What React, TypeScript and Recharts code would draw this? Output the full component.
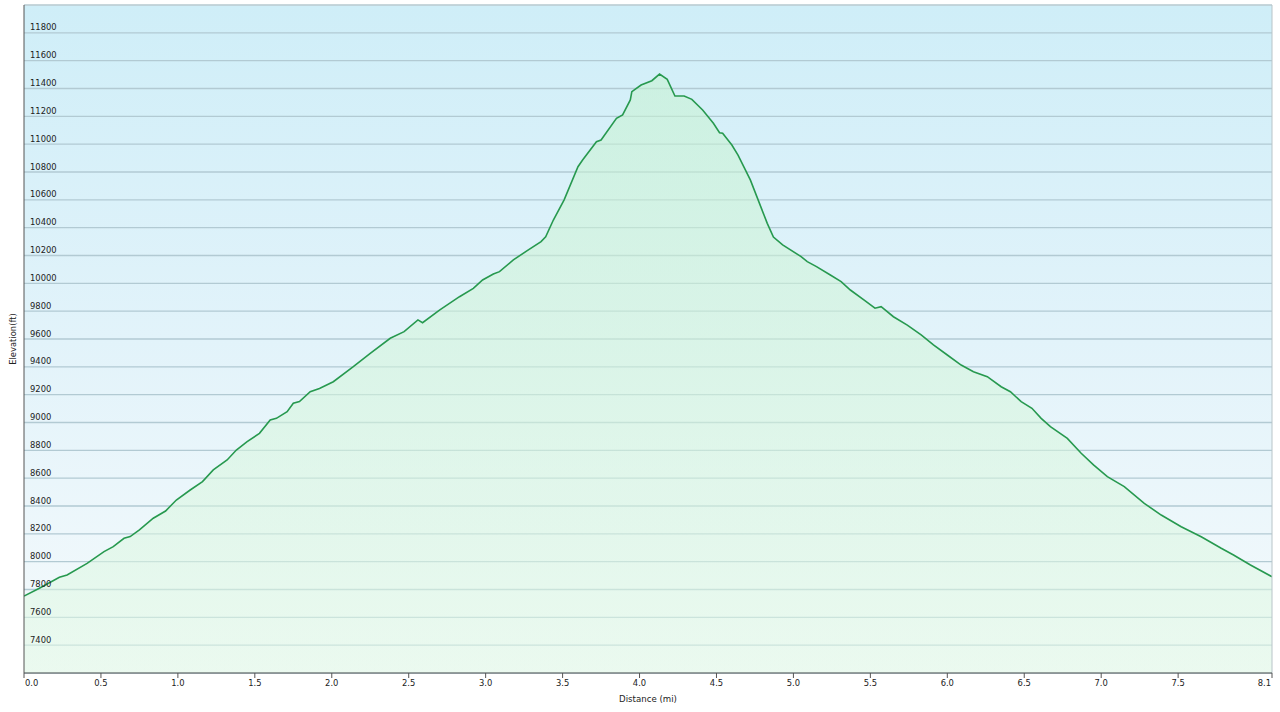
import React from 'react';
import { AreaChart, Area, XAxis, YAxis, CartesianGrid, ReferenceLine } from 'recharts';

const distanceMi = [
  0.0, 0.1, 0.23, 0.28, 0.41, 0.52, 0.58, 0.65, 0.69, 0.75, 0.84, 0.92, 0.99, 1.08, 1.16, 1.23,
  1.32, 1.38, 1.45, 1.53, 1.6, 1.64, 1.71, 1.75, 1.79, 1.86, 1.92, 2.01, 2.14, 2.25, 2.38, 2.47,
  2.56, 2.59, 2.7, 2.83, 2.92, 2.98, 3.05, 3.09, 3.18, 3.27, 3.36, 3.39, 3.44, 3.51, 3.6, 3.63,
  3.72, 3.75, 3.85, 3.89, 3.94, 3.95, 4.01, 4.08, 4.13, 4.18, 4.23, 4.29, 4.34, 4.41, 4.48, 4.52,
  4.54, 4.6, 4.64, 4.72, 4.83, 4.87, 4.93, 5.05, 5.09, 5.15, 5.24, 5.31, 5.37, 5.46, 5.53, 5.57,
  5.65, 5.74, 5.83, 5.91, 6.0, 6.09, 6.17, 6.26, 6.35, 6.41, 6.48, 6.55, 6.61, 6.67, 6.78, 6.87,
  6.95, 7.04, 7.15, 7.28, 7.39, 7.52, 7.65, 7.78, 7.86, 7.97, 8.11,
];

const elevationFt = [
  7753, 7809, 7888, 7904, 7988, 8072, 8108, 8168, 8180, 8228, 8312, 8364, 8443, 8515, 8575, 8659,
  8731, 8802, 8862, 8922, 9018, 9030, 9078, 9138, 9150, 9221, 9245, 9293, 9401, 9497, 9605, 9653,
  9737, 9717, 9808, 9904, 9964, 10024, 10067, 10084, 10168, 10235, 10300, 10335, 10455, 10600, 10838, 10886,
  11018, 11030, 11186, 11210, 11318, 11377, 11425, 11456, 11504, 11466, 11346, 11346, 11322, 11246, 11150, 11082,
  11078, 10994, 10922, 10743, 10431, 10333, 10276, 10192, 10156, 10120, 10060, 10012, 9952, 9880, 9821, 9832,
  9760, 9700, 9629, 9557, 9485, 9413, 9365, 9329, 9257, 9221, 9150, 9102, 9030, 8970, 8886, 8779,
  8695, 8611, 8539, 8419, 8335, 8251, 8179, 8096, 8048, 7976, 7892,
];

const yTicks = [7400, 7600, 7800, 8000, 8200, 8400, 8600, 8800, 9000, 9200, 9400, 9600, 9800, 10000, 10200, 10400, 10600, 10800, 11000, 11200, 11400, 11600, 11800];
const xTicks = [0, 0.5, 1, 1.5, 2, 2.5, 3, 3.5, 4, 4.5, 5, 5.5, 6, 6.5, 7, 7.5, 8.11];
const yDomain = [7200, 12000];
const xDomain = [0, 8.11];

const data = distanceMi.map((d, i) => ({ d, e: elevationFt[i] }));

const FONT = '"DejaVu Sans", Verdana, sans-serif';

const XTick = (props: any) => {
  const { x, y, payload, index } = props;
  const anchor = index === 0 ? 'start' : index === xTicks.length - 1 ? 'end' : 'middle';
  const dx = index === 0 ? 1 : index === xTicks.length - 1 ? -1 : 0;
  return (
    <text x={x + dx} y={y} dy="0.71em" textAnchor={anchor} fontSize={8.4} fontFamily={FONT} fill="#222">
      {Number(payload.value).toFixed(1)}
    </text>
  );
};

const EmptyTick = () => <g />;

const yLabel = (value: number) => (p: any) => {
  const vb = p.viewBox || {};
  return (
    <text x={vb.x + 6} y={vb.y - 2.5} textAnchor="start" fontSize={8.4} fontFamily={FONT} fill="#222">
      {value}
    </text>
  );
};

export default function App() {
  return (
    <div style={{ position: 'absolute', left: 0, top: 0, width: 1280, height: 712, background: '#fff' }}>
      <AreaChart width={1280} height={712} data={data} margin={{ top: 5, right: 8, bottom: 0, left: 0 }}>
        <defs>
          <linearGradient id="bgGrad" x1="0" y1="0" x2="0" y2="1">
            <stop offset="0%" stopColor="#cfeef8" />
            <stop offset="50%" stopColor="#e2f3fa" />
            <stop offset="100%" stopColor="#f5fafc" />
          </linearGradient>
          <linearGradient id="areaGrad" x1="0" y1="0" x2="0" y2="1">
            <stop offset="0%" stopColor="#c6f2cf" stopOpacity={0.55} />
            <stop offset="100%" stopColor="#e2f9e5" stopOpacity={0.55} />
          </linearGradient>
        </defs>
        <CartesianGrid vertical={false} stroke="#b2cad3" strokeWidth={1.4} fill="url(#bgGrad)" fillOpacity={1} />
        <XAxis
          dataKey="d"
          type="number"
          domain={xDomain}
          ticks={xTicks}
          interval={0}
          height={39}
          tickSize={5}
          tickMargin={2}
          stroke="#555"
          tick={<XTick />}
          allowDataOverflow
          label={{
            content: (p: any) => {
              const vb = p.viewBox || {};
              return (
                <text x={vb.x + vb.width / 2} y={702} textAnchor="middle" fontSize={8.6} fontFamily={FONT} fill="#222">
                  Distance  (mi)
                </text>
              );
            },
          }}
        />
        <YAxis
          type="number"
          domain={yDomain}
          ticks={yTicks}
          interval={0}
          width={24}
          tickLine={false}
          tick={<EmptyTick />}
          stroke="#555"
          allowDataOverflow
          label={{
            content: (p: any) => {
              const vb = p.viewBox || {};
              const cy = vb.y + vb.height / 2;
              const cx = 16;
              return (
                <text x={cx} y={cy} transform={`rotate(-90 ${cx} ${cy})`} textAnchor="middle" fontSize={8.4} fontFamily={FONT} fill="#222">
                  Elevation(ft)
                </text>
              );
            },
          }}
        />
        <ReferenceLine y={12000} stroke="#c8d4d8" strokeWidth={1} />
        <ReferenceLine x={8.11} stroke="#b8c4c8" strokeWidth={1} />
        <Area
          type="linear"
          dataKey="e"
          stroke="#27994f"
          strokeWidth={1.6}
          fill="url(#areaGrad)"
          fillOpacity={1}
          isAnimationActive={false}
          dot={false}
          activeDot={false}
        />
        {yTicks.map((v) => (
          <ReferenceLine key={v} y={v} stroke="none" label={{ content: yLabel(v) }} />
        ))}
      </AreaChart>
    </div>
  );
}
